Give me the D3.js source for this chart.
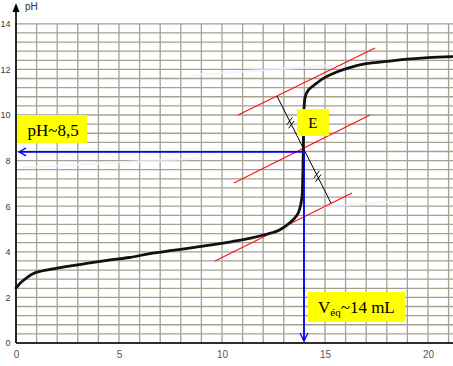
<!DOCTYPE html>
<html>
<head>
<meta charset="utf-8">
<script src="https://cdn.jsdelivr.net/npm/d3@7"></script>
<style>
  html, body { margin: 0; padding: 0; background: #ffffff; }
  svg { display: block; }
</style>
</head>
<body>
<svg id="chart" width="453" height="366"></svg>
<script>
// ---- data ----
const volume = [0, 0.2, 0.5, 0.85, 1.6, 2.5, 3.5, 4.5, 5.5, 6.5, 7.5, 8.5, 9.5, 10.5, 11.4, 12.2, 12.8, 13.2, 13.5, 13.7, 13.82, 13.89, 13.92, 13.94, 13.95, 13.96, 13.97, 13.99, 14.04, 14.2, 14.6, 15.0, 15.6, 16.2, 17.0, 18.0, 19.0, 20.0, 21.2];
const pH     = [2.41, 2.62, 2.85, 3.05, 3.22, 3.36, 3.5, 3.63, 3.75, 3.92, 4.05, 4.17, 4.3, 4.45, 4.6, 4.78, 4.96, 5.2, 5.45, 5.7, 6.05, 6.5, 7.2, 8.0, 8.6, 9.3, 9.9, 10.4, 10.8, 11.1, 11.4, 11.65, 11.9, 12.08, 12.25, 12.35, 12.45, 12.52, 12.56];

const xTickLabels = [0, 5, 10, 15, 20];
const yTickLabels = [0, 2, 4, 6, 8, 10, 12, 14];

const tangentUpper  = [[10.78, 10.0], [17.43, 12.94]];
const tangentMiddle = [[10.58, 7.02], [17.18, 10.0]];
const tangentLower  = [[9.66, 3.6], [16.31, 6.58]];
const perpendicular = [[12.67, 10.83], [15.29, 6.14]];

const equivalence = [13.98, 8.38];   // E point (V, pH)

const labelPH  = { text: "pH~8,5", box: [[0.05, 10.0], [3.45, 8.77]] };
const labelE   = { text: "E", box: [[13.64, 10.26], [15.19, 9.08]] };
const labelVeq = { main: "V", sub: "éq", rest: "~14 mL", box: [[14.17, 2.24], [18.88, 0.92]] };

const scanStreaks = [[[8.59, 11.75], [15.58, 12.19]], [[0.3, 7.7], [9.0, 8.1]], [[14.8, 5.95], [19.0, 6.25]]];

// ---- scales ----
const svg = d3.select("#chart");
const x = d3.scaleLinear().domain([0, 21.2]).range([16, 452.7]);
const y = d3.scaleLinear().domain([0, 14]).range([343, 23.8]);

// ---- grid ----
const grid = svg.append("g").attr("stroke", "#a3a18f").attr("stroke-width", 1.3);
d3.range(0, 22, 1).forEach(v => {
  grid.append("line").attr("x1", x(v)).attr("x2", x(v)).attr("y1", y(14)).attr("y2", y(0));
});
d3.range(0, 36, 1).map(i => i * 0.4).forEach(p => {
  grid.append("line").attr("x1", x(0)).attr("x2", 453).attr("y1", y(p)).attr("y2", y(p));
});

// scan streaks (light artefacts)
scanStreaks.forEach(s => {
  svg.append("line")
    .attr("x1", x(s[0][0])).attr("y1", y(s[0][1]))
    .attr("x2", x(s[1][0])).attr("y2", y(s[1][1]))
    .attr("stroke", "#f3f1fb").attr("stroke-width", 2.5).attr("opacity", 0.7);
});

// ---- axes ----
const yAxis = d3.axisLeft(y).tickValues(yTickLabels).tickSize(0).tickPadding(5.5);
const gy = svg.append("g").attr("transform", `translate(${x(0)},0)`).call(yAxis);
gy.select(".domain").remove();
gy.selectAll("text").attr("font-family", "Liberation Sans, Arial, sans-serif").attr("font-size", 9).attr("fill", "#3a3a3a");

const xAxis = d3.axisBottom(x).tickValues(xTickLabels).tickSize(0).tickPadding(8);
const gx = svg.append("g").attr("transform", `translate(0,${y(0)})`).call(xAxis);
gx.select(".domain").remove();
gx.selectAll("text").attr("font-family", "Liberation Sans, Arial, sans-serif").attr("font-size", 10).attr("fill", "#555");

// axis lines
svg.append("line").attr("x1", x(0)).attr("x2", 453).attr("y1", y(0)).attr("y2", y(0))
  .attr("stroke", "#000").attr("stroke-width", 1.6);
svg.append("line").attr("x1", x(0)).attr("x2", x(0)).attr("y1", y(0)).attr("y2", 8)
  .attr("stroke", "#000").attr("stroke-width", 1.6);
svg.append("path")
  .attr("d", `M${x(0)},3 L${x(0) - 3.5},12 L${x(0) + 3.5},12 Z`).attr("fill", "#000");
svg.append("text").attr("x", 25).attr("y", 10).text("pH")
  .attr("font-family", "Liberation Sans, Arial, sans-serif").attr("font-size", 10).attr("fill", "#333");

// ---- tangents ----
const lineGen = d3.line().x(d => x(d[0])).y(d => y(d[1]));
[tangentUpper, tangentMiddle, tangentLower].forEach(t => {
  svg.append("path").attr("d", lineGen(t)).attr("stroke", "#ff1010").attr("stroke-width", 1.2).attr("fill", "none");
});

// perpendicular with equal-length marks
svg.append("path").attr("d", lineGen(perpendicular)).attr("stroke", "#000").attr("stroke-width", 1).attr("fill", "none");
const p0 = [x(perpendicular[0][0]), y(perpendicular[0][1])];
const p1 = [x(perpendicular[1][0]), y(perpendicular[1][1])];
const dx = p1[0] - p0[0], dy = p1[1] - p0[1];
const len = Math.hypot(dx, dy);
const ux = dx / len, uy = dy / len;   // along
const nx = -uy, ny = ux;              // normal
[0.25, 0.75].forEach(f => {
  const cx = p0[0] + dx * f, cy = p0[1] + dy * f;
  [-2, 2].forEach(o => {
    const mx = cx + ux * o, my = cy + uy * o;
    svg.append("line")
      .attr("x1", mx - nx * 4 - ux * 2).attr("y1", my - ny * 4 - uy * 2)
      .attr("x2", mx + nx * 4 + ux * 2).attr("y2", my + ny * 4 + uy * 2)
      .attr("stroke", "#000").attr("stroke-width", 1);
  });
});

// ---- titration curve ----
const curve = volume.map((v, i) => [v, pH[i]]);
svg.append("path")
  .attr("d", d3.line().x(d => x(d[0])).y(d => y(d[1])).curve(d3.curveCatmullRom.alpha(0.5))(curve))
  .attr("fill", "none").attr("stroke", "#111").attr("stroke-width", 2.8).attr("stroke-linejoin", "round").attr("stroke-linecap", "round");

// ---- blue projection arrows ----
const ex = x(equivalence[0]), ey = y(equivalence[1]);
const blue = svg.append("g").attr("stroke", "#0000ff").attr("stroke-width", 1.8).attr("fill", "none");
blue.append("line").attr("x1", ex).attr("y1", ey).attr("x2", x(0.15)).attr("y2", ey);
blue.append("path").attr("d", `M${x(0.15) + 7},${ey - 4} L${x(0.15)},${ey} L${x(0.15) + 7},${ey + 4}`).attr("stroke-width", 1.3);
blue.append("line").attr("x1", ex).attr("y1", ey).attr("x2", ex).attr("y2", y(0) - 2);
blue.append("path").attr("d", `M${ex - 4},${y(0) - 10} L${ex},${y(0) - 2} L${ex + 4},${y(0) - 10}`).attr("stroke-width", 1.3);

// ---- labels ----
function box(b) {
  return svg.append("rect")
    .attr("x", x(b[0][0])).attr("y", y(b[0][1]))
    .attr("width", x(b[1][0]) - x(b[0][0])).attr("height", y(b[1][1]) - y(b[0][1]))
    .attr("fill", "#ffff00");
}
const serif = "Liberation Serif, Times New Roman, serif";

box(labelPH.box);
svg.append("text")
  .attr("x", (x(labelPH.box[0][0]) + x(labelPH.box[1][0])) / 2 + 1)
  .attr("y", y(labelPH.box[1][1]) - 7)
  .attr("text-anchor", "middle").attr("font-family", serif).attr("font-size", 17).attr("fill", "#000")
  .text(labelPH.text);

box(labelE.box);
svg.append("text")
  .attr("x", (x(labelE.box[0][0]) + x(labelE.box[1][0])) / 2)
  .attr("y", y(labelE.box[1][1]) - 8)
  .attr("text-anchor", "middle").attr("font-family", serif).attr("font-size", 15).attr("fill", "#000")
  .text(labelE.text);

box(labelVeq.box);
const tv = svg.append("text")
  .attr("x", (x(labelVeq.box[0][0]) + x(labelVeq.box[1][0])) / 2)
  .attr("y", y(labelVeq.box[1][1]) - 9)
  .attr("text-anchor", "middle").attr("font-family", serif).attr("font-size", 17).attr("fill", "#000");
tv.append("tspan").text(labelVeq.main);
tv.append("tspan").attr("font-size", 11).attr("dy", 3).text(labelVeq.sub);
tv.append("tspan").attr("dy", -3).text(labelVeq.rest);
</script>
</body>
</html>
